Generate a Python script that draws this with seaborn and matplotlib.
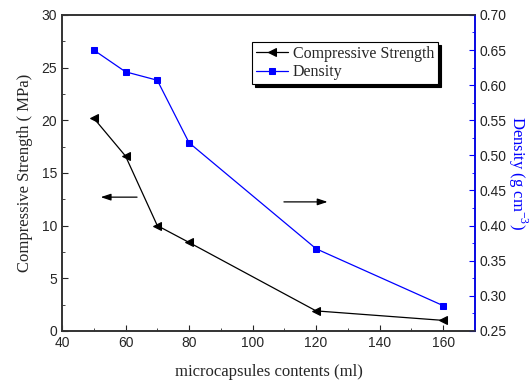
import numpy as np
import pandas as pd
import seaborn as sns
import matplotlib.pyplot as plt
from matplotlib.ticker import MultipleLocator

contents = [50, 60, 70, 80, 120, 160]
strength = [20.2, 16.6, 10.0, 8.4, 1.9, 1.0]
density = [0.650, 0.619, 0.607, 0.518, 0.367, 0.286]

sns.set_style("ticks")
plt.rcParams['font.family'] = ['Liberation Sans', 'DejaVu Sans']
plt.rcParams['mathtext.fontset'] = 'custom'
plt.rcParams['mathtext.rm'] = 'Liberation Serif'

df = pd.DataFrame({'contents': contents, 'strength': strength, 'density': density})

fig = plt.figure(figsize=(5.3, 3.83), dpi=100)
ax1 = fig.add_axes([0.117, 0.136, 0.779, 0.825])
ax2 = ax1.twinx()

sns.lineplot(data=df, x='contents', y='strength', ax=ax1, color='black', lw=0.9,
             marker='<', markersize=6, markeredgecolor='black', label='Compressive Strength', legend=False)
sns.lineplot(data=df, x='contents', y='density', ax=ax2, color='blue', lw=0.9,
             marker='s', markersize=5, markeredgecolor='blue', label='Density', legend=False)

serif = ['Liberation Serif', 'DejaVu Serif']
ax1.set_xlim(40, 170)
ax1.set_ylim(0, 30)
ax2.set_ylim(0.25, 0.70)
ax1.xaxis.set_major_locator(MultipleLocator(20))
ax1.xaxis.set_minor_locator(MultipleLocator(10))
ax1.yaxis.set_major_locator(MultipleLocator(5))
ax1.yaxis.set_minor_locator(MultipleLocator(2.5))
ax2.yaxis.set_major_locator(MultipleLocator(0.05))
ax2.yaxis.set_minor_locator(MultipleLocator(0.025))
ax2.yaxis.set_major_formatter(plt.FormatStrFormatter('%.2f'))

ax1.set_xlabel('microcapsules contents (ml)', family=serif, fontsize=12, labelpad=10)
ax1.set_ylabel('Compressive Strength ( MPa)', family=serif, fontsize=12, labelpad=6)
ax2.set_ylabel('Density (g cm$^{-3}$)', family=serif, fontsize=12, color='blue',
               rotation=270, labelpad=16)

for ax in (ax1, ax2):
    ax.tick_params(which='both', direction='in', labelsize=10)
    ax.tick_params(which='major', length=4)
    ax.tick_params(which='minor', length=2)
    for s in ax.spines.values():
        s.set_linewidth(1.2)
        s.set_color('#333333')
ax1.tick_params(axis='both', which='both', top=False)
ax2.spines['right'].set_color('blue')
ax2.tick_params(axis='y', which='both', colors='blue', labelcolor='#222222')

arrow = dict(arrowstyle='-|>,head_length=0.6,head_width=0.2', color='black', lw=0.9, mutation_scale=10)
ax1.annotate('', xy=(51.3, 12.7), xytext=(64.5, 12.7), arrowprops=arrow)
ax1.annotate('', xy=(124.5, 12.25), xytext=(109, 12.25), arrowprops=arrow)

handles = ax1.get_lines()[:1] + ax2.get_lines()[:1]
leg = ax1.legend(handles, ['Compressive Strength', 'Density'], loc='upper left',
                 bbox_to_anchor=(0.46, 0.915), prop={'family': serif, 'size': 11.5},
                 frameon=True, fancybox=False, shadow={'color': 'black', 'alpha': 1},
                 borderpad=0.25, handlelength=2.0, handletextpad=0.3, labelspacing=0.15,
                 borderaxespad=0)
leg.get_frame().set_edgecolor('black')
leg.get_frame().set_linewidth(0.8)

fig.savefig('out.png', dpi=100)
